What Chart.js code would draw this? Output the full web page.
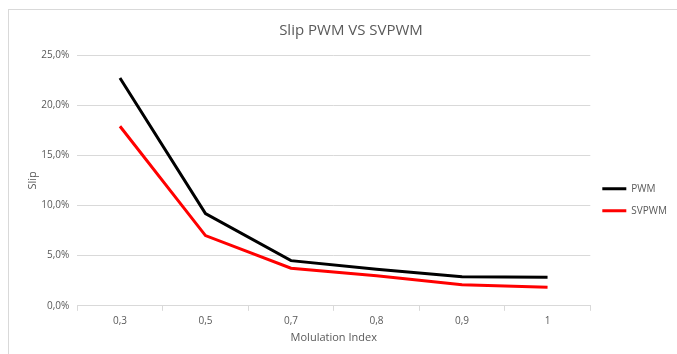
<!DOCTYPE html>
<html>
<head>
<meta charset="utf-8">
<script src="https://cdn.jsdelivr.net/npm/chart.js@4.4.0/dist/chart.umd.min.js"></script>
<style>
  body { margin: 0; background: #fff; }
  #wrap { position: relative; width: 677px; height: 354px; }
  #frame { position: absolute; left: 8px; top: 9px; width: 700px; height: 400px;
           border-left: 1px solid #d9d9d9; border-top: 1px solid #d9d9d9; }
  canvas { position: absolute; left: 0; top: 0; }
</style>
</head>
<body>
<div id="wrap">
  <div id="frame"></div>
  <canvas id="chart" width="677" height="354"></canvas>
</div>
<script>
// data (slip in %)
const modIndex = ['0,3', '0,5', '0,7', '0,8', '0,9', '1'];
const slipPWM = [22.7, 9.2, 4.5, 3.65, 2.9, 2.85];
const slipSVPWM = [17.9, 7.0, 3.75, 3.0, 2.1, 1.85];

const grey = '#595959';
const gridGrey = '#d9d9d9';
Chart.defaults.font.family = 'Open Sans';
Chart.defaults.color = grey;

var ctx = document.getElementById('chart').getContext('2d');
var chart = new Chart(ctx, {
  type: 'line',
  data: {
    labels: modIndex,
    datasets: [{
      label: 'PWM',
      data: slipPWM,
      borderColor: '#000000',
      backgroundColor: '#000000',
      borderWidth: 3,
      pointRadius: 0,
      tension: 0
    }, {
      label: 'SVPWM',
      data: slipSVPWM,
      borderColor: '#ff0000',
      backgroundColor: '#ff0000',
      borderWidth: 3,
      pointRadius: 0,
      tension: 0
    }]
  },
  options: {
    responsive: false,
    animation: false,
    layout: { padding: { left: 25, right: 0, top: 12, bottom: 10 } },
    plugins: {
      title: {
        display: true,
        text: 'Slip PWM VS SVPWM',
        color: grey,
        font: { size: 15, weight: 'normal' },
        padding: { top: 10, bottom: 15 }
      },
      legend: {
        position: 'right',
        // empty legend title only pushes the items down to where they sit in the picture
        title: { display: true, text: '', padding: { top: 29, bottom: 0 } },
        labels: {
          usePointStyle: true,
          pointStyle: 'line',
          pointStyleWidth: 24,
          boxHeight: 3,
          padding: 12,
          color: grey,
          font: { size: 10 }
        }
      },
      tooltip: { enabled: false }
    },
    scales: {
      x: {
        offset: true,
        grid: { offset: true, drawOnChartArea: false, tickLength: 5, color: gridGrey },
        border: { color: gridGrey },
        ticks: { font: { size: 10 }, padding: 4 },
        title: { display: true, text: 'Molulation Index', font: { size: 11 }, padding: { top: 0, bottom: 0 } }
      },
      y: {
        min: 0,
        max: 25,
        grid: { color: gridGrey, drawTicks: false },
        border: { display: false },
        ticks: {
          stepSize: 5,
          padding: 8,
          font: { size: 10 },
          callback: v => v.toFixed(1).replace('.', ',') + '%'
        },
        title: { display: true, text: 'Slip', font: { size: 11 }, padding: { top: 1, bottom: -6 } }
      }
    }
  }
});
</script>
</body>
</html>
